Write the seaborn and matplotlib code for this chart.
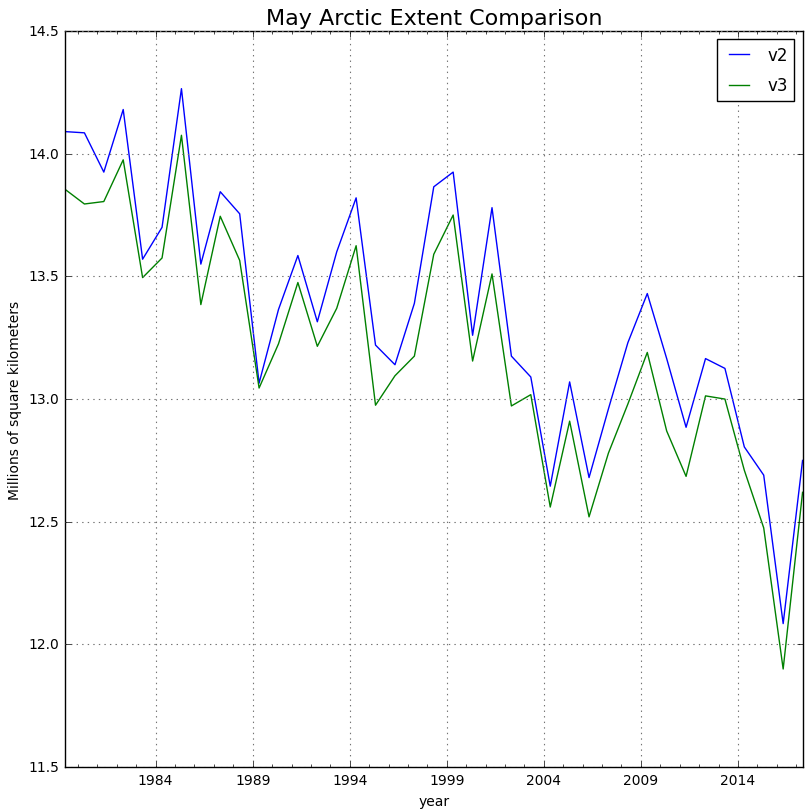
import pandas as pd
import matplotlib
matplotlib.use("Agg")
import matplotlib.pyplot as plt
import matplotlib.dates as mdates
import seaborn as sns

# May extent, millions of km^2
years = list(range(1979, 2018))
v2 = [14.09, 14.085, 13.925, 14.18, 13.57, 13.70, 14.265, 13.55, 13.845, 13.755,
      13.065, 13.365, 13.585, 13.315, 13.60, 13.82, 13.22, 13.14, 13.39, 13.865,
      13.925, 13.26, 13.78, 13.175, 13.09, 12.645, 13.07, 12.68, 12.96, 13.23,
      13.43, 13.165, 12.885, 13.165, 13.125, 12.805, 12.69, 12.085, 12.75]
v3 = [13.855, 13.795, 13.805, 13.975, 13.495, 13.575, 14.075, 13.385, 13.745, 13.565,
      13.045, 13.225, 13.475, 13.215, 13.37, 13.625, 12.975, 13.095, 13.175, 13.59,
      13.75, 13.155, 13.51, 12.972, 13.018, 12.56, 12.91, 12.52, 12.78, 12.98,
      13.19, 12.87, 12.685, 13.013, 13.0, 12.71, 12.475, 11.90, 12.62]
tick_years = [1984, 1989, 1994, 1999, 2004, 2009, 2014]

dates = pd.to_datetime([f"{y}-05-01" for y in years])
df = pd.DataFrame({"year": list(dates) * 2,
                   "extent": v2 + v3,
                   "version": ["v2"] * len(years) + ["v3"] * len(years)})

plt.style.use("classic")
plt.rcParams["figure.facecolor"] = "white"
plt.rcParams["savefig.facecolor"] = "white"

fig = plt.figure(figsize=(8.07, 8.12), dpi=100)
ax = fig.add_axes([0.0805, 0.054, 0.914, 0.9066])

sns.lineplot(data=df, x="year", y="extent", hue="version",
             palette=["b", "g"], linewidth=1.0, ax=ax)

ax.set_xlim(dates[0], dates[-1])
ax.set_ylim(11.5, 14.5)
yt = [11.5, 12.0, 12.5, 13.0, 13.5, 14.0, 14.5]
ax.set_yticks(yt)
ax.set_yticklabels([f"{t:.1f}" for t in yt])
ax.set_xticks(pd.to_datetime([f"{y}-01-01" for y in tick_years]))
ax.xaxis.set_major_formatter(mdates.DateFormatter("%Y"))
ax.xaxis.set_minor_locator(mdates.YearLocator(1))
ax.tick_params(axis="both", labelsize=10)
ax.grid(True, which="major", color="0.45", linestyle=":", linewidth=0.8)

ax.set_title("May Arctic Extent Comparison", fontsize=16)
ax.set_xlabel("year", fontsize=10)
ax.set_ylabel("Millions of square kilometers", fontsize=10)

leg = ax.legend(loc="upper right", fontsize=12, fancybox=False,
                labelspacing=0.75, borderaxespad=0.5, handlelength=1.8)
leg.set_title(None)

fig.savefig("out.png", dpi=100)
